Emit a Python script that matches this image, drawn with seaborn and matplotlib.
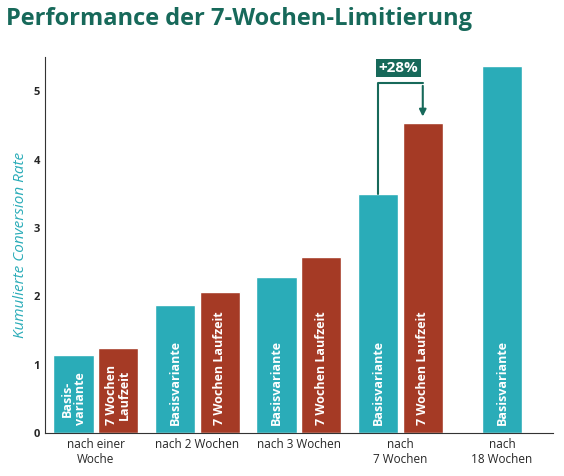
import matplotlib
matplotlib.use("Agg")
import matplotlib.pyplot as plt
import seaborn as sns
import pandas as pd

groups = ["nach einer\nWoche", "nach 2 Wochen", "nach 3 Wochen", "nach\n7 Wochen", "nach\n18 Wochen"]
basis = [1.15, 1.88, 2.28, 3.50, 5.37]
sieben = [1.25, 2.07, 2.57, 4.54, None]
basis_labels = ["Basis-\nvariante", "Basisvariante", "Basisvariante", "Basisvariante", "Basisvariante"]
sieben_labels = ["7 Wochen\nLaufzeit", "7 Wochen Laufzeit", "7 Wochen Laufzeit", "7 Wochen Laufzeit", None]

sns.set_style("white")
plt.rcParams['font.family'] = ['Open Sans', 'DejaVu Sans']
teal = "#2aacb8"; red = "#a53a25"; dark = "#17695a"

rows = []
for g, b, s in zip(groups, basis, sieben):
    rows.append(dict(g=g, v=b, s="Basis"))
    rows.append(dict(g=g, v=s if s is not None else 0.0, s="7W"))
df = pd.DataFrame(rows)

fig = plt.figure(figsize=(5.64, 4.76), dpi=100)
ax = fig.add_axes([0.08, 0.09, 0.90, 0.79])
sns.barplot(data=df, x="g", y="v", hue="s", palette=[teal, red], ax=ax,
            width=0.88, gap=0.1, legend=False, saturation=1)
bars_b = ax.containers[0].patches
bars_s = ax.containers[1].patches
# center the single last bar
last = bars_b[-1]
last.set_x(4 - last.get_width() / 2)
bars_s[-1].set_visible(False)

for p, t in zip(bars_b, basis_labels):
    ax.text(p.get_x() + p.get_width() / 2, 0.12, t, rotation=90, color="white",
            fontsize=9, fontweight="bold", ha="center", va="bottom", linespacing=1.0)
for p, t in zip(bars_s, sieben_labels):
    if t:
        ax.text(p.get_x() + p.get_width() / 2, 0.12, t, rotation=90, color="white",
                fontsize=9, fontweight="bold", ha="center", va="bottom", linespacing=1.0)

# +28% annotation
xb = bars_b[3].get_x() + bars_b[3].get_width() / 2
xs = bars_s[3].get_x() + bars_s[3].get_width() / 2
ytop = 5.12
ax.plot([xb, xb, xs], [basis[3], ytop, ytop], color=dark, lw=1.5)
ax.annotate("", xy=(xs, sieben[3] + 0.05), xytext=(xs, ytop),
            arrowprops=dict(arrowstyle="-|>", color=dark, lw=1.5))
ax.text((xb + xs) / 2 - 0.02, ytop + 0.22, "+28%", color="white", fontsize=11, fontweight="bold",
        ha="center", va="center", bbox=dict(boxstyle="square,pad=0.15", fc=dark, ec="none"))

ax.set_ylim(0, 5.5)
ax.set_xlim(-0.5, 4.5)
ax.set_yticks([0, 1, 2, 3, 4, 5])
ax.tick_params(axis="y", labelsize=8, length=0)
ax.tick_params(axis="x", labelsize=8.5, length=0)
for lab in ax.get_yticklabels():
    lab.set_fontweight("bold")
ax.set_xlabel("")
ax.set_ylabel("Kumulierte Conversion Rate", color=teal, fontstyle="italic", fontsize=11)
for sp in ["top", "right"]:
    ax.spines[sp].set_visible(False)
for sp in ["left", "bottom"]:
    ax.spines[sp].set_color("#333333"); ax.spines[sp].set_linewidth(0.8)

fig.text(0.01, 0.96, "Performance der 7-Wochen-Limitierung", color=dark, fontsize=17,
         fontweight="bold", ha="left", va="center")
fig.savefig("out.png", dpi=100)
